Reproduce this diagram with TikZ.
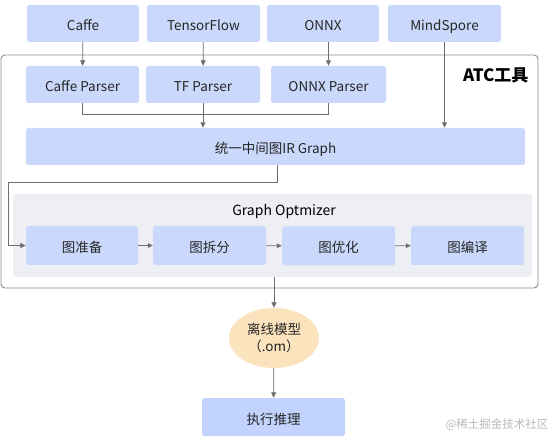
\documentclass[tikz,border=0pt]{standalone}
\usepackage{fontspec}
\setmainfont{Noto Sans CJK SC}
\usetikzlibrary{arrows.meta,shapes.geometric,calc}
\definecolor{boxblue}{HTML}{C9D8FB}
\definecolor{boxblue2}{HTML}{C2D3FE}
\definecolor{optgray}{HTML}{EDEFF4}
\definecolor{linegray}{HTML}{6E6E6E}
\definecolor{framegray}{HTML}{8A8A8A}
\definecolor{omfill}{HTML}{FBE3BD}
\definecolor{txt}{HTML}{262626}
\begin{document}
\begin{tikzpicture}[x=1pt,y=-1pt,
  bx/.style={fill=boxblue,rounded corners=2.5pt,minimum height=37pt,inner sep=0pt,font=\fontsize{13.5}{16}\selectfont,text=txt,text height=14pt,text depth=0pt},
  conn/.style={draw=linegray,line width=0.8pt},
  arr/.style={conn,-{Triangle[length=5.5pt,width=5pt]}},
  sarr/.style={conn,-{Triangle[length=5pt,width=4.5pt]}}]
\useasboundingbox (0,0) rectangle (554,438);
% outer frame
\draw[draw=framegray,line width=0.9pt,rounded corners=4pt] (1,55) rectangle (538,288);
\node[font=\bfseries\fontsize{17}{20}\selectfont,anchor=east,text=black,text height=13pt,text depth=0pt] (atc) at (532,75) {ATC工具};
% top inputs
\node[bx,minimum width=112pt] (caffe) at (83,23.5) {Caffe};
\node[bx,minimum width=113pt] (tf) at (203.5,23.5) {TensorFlow};
\node[bx,minimum width=112pt] (onnx) at (323,23.5) {ONNX};
\node[bx,minimum width=113pt] (ms) at (444.5,23.5) {MindSpore};
% parsers
\node[bx,minimum width=113pt] (cp) at (82.5,84.5) {Caffe Parser};
\node[bx,minimum width=114pt] (tp) at (203,84.5) {TF Parser};
\node[bx,minimum width=115pt] (op) at (328.5,84.5) {ONNX Parser};
% IR
\node[bx,minimum width=499pt] (ir) at (275.5,146.5) {统一中间图IR Graph};
% optimizer container
\node[fill=optgray,rounded corners=3pt,minimum width=519pt,minimum height=83pt,inner sep=0pt] (opt) at (272.5,235.5) {};
\node[font=\fontsize{14}{16}\selectfont,text=black,text height=11pt,text depth=0pt] (optl) at (284,210) {Graph Optmizer};
\node[bx,minimum width=112pt,minimum height=39pt] (g1) at (82,245.5) {图准备};
\node[bx,minimum width=113pt,minimum height=39pt] (g2) at (209.5,245.5) {图拆分};
\node[bx,minimum width=113pt,minimum height=39pt] (g3) at (338.5,246) {图优化};
\node[bx,minimum width=113pt,minimum height=39pt] (g4) at (467.5,245.5) {图编译};
% output
\node[ellipse,fill=omfill,minimum width=90pt,minimum height=60pt,inner sep=0pt,align=center,font=\fontsize{13.5}{17}\selectfont,text=txt,yshift=0pt] (om) at (274,338) {\raisebox{-2pt}{离线模型}\\\raisebox{-2pt}{（.om）}};
\node[bx,fill=boxblue2,minimum width=143pt,minimum height=38pt] (run) at (273.5,417) {执行推理};
\node[font=\fontsize{11.5}{13}\selectfont,text=gray!55,anchor=east] (wm) at (552,425) {@稀土掘金技术社区};
% connectors
\draw[arr] (caffe) -- (cp);
\draw[arr] (tf) -- (tp);
\draw[arr] (onnx.south -| op.north) -- (op);
\coordinate (jl) at ($(cp.south)+(0,11)$);
\coordinate (jr) at ($(op.south)+(0,11)$);
\draw[conn] (cp.south) -- (jl) -- (jr) -- (op.south);
\draw[arr] (tp.south) -- (tp.south |- ir.north);
\draw[arr] (ms.south) -- (ms.south |- ir.north);
\coordinate (ia) at (277,182);
\coordinate (ib) at (8,182);
\draw[arr] (ir.south -| ia) -- (ia) -- (ib) -- (ib |- g1.west) -- (g1.west);
\draw[sarr] (g1) -- (g2);
\draw[sarr] (g2) -- (g3);
\draw[sarr] (g3) -- (g4);
\draw[arr] (opt.south -| om.north) -- (om.north);
\draw[arr] (om) -- (run);
\end{tikzpicture}
\end{document}
